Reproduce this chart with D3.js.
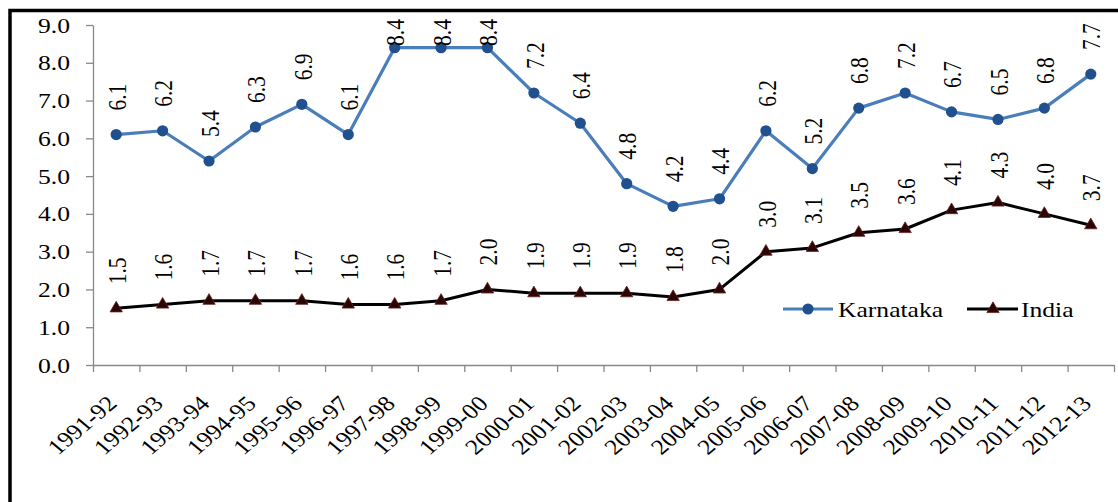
<!DOCTYPE html>
<html>
<head>
<meta charset="utf-8">
<script src="https://cdn.jsdelivr.net/npm/d3@7/dist/d3.min.js"></script>
<style>
  html, body { margin: 0; padding: 0; background: #fff; }
  svg { display: block; }
  text { font-family: "Liberation Serif", "Times New Roman", serif; fill: #000; }
</style>
</head>
<body>
<svg id="chart" width="1118" height="502"></svg>
<script>
// Growth series (per cent), 1991-92 to 2012-13
const categories = ["1991-92","1992-93","1993-94","1994-95","1995-96","1996-97","1997-98",
  "1998-99","1999-00","2000-01","2001-02","2002-03","2003-04","2004-05","2005-06",
  "2006-07","2007-08","2008-09","2009-10","2010-11","2011-12","2012-13"];
const karnataka = [6.1,6.2,5.4,6.3,6.9,6.1,8.4,8.4,8.4,7.2,6.4,4.8,4.2,4.4,6.2,5.2,6.8,7.2,6.7,6.5,6.8,7.7];
const india = [1.5,1.6,1.7,1.7,1.7,1.6,1.6,1.7,2.0,1.9,1.9,1.9,1.8,2.0,3.0,3.1,3.5,3.6,4.1,4.3,4.0,3.7];
const yTicks = [0,1,2,3,4,5,6,7,8,9];
const seriesNames = ["Karnataka", "India"];

const W = 1118, H = 502;
const plot = { left: 93, right: 1114, top: 25, bottom: 365 };
const FONT = 21.5;      // label font size
const SX = 1.19;        // horizontal text stretch
const blueLine = "#4a7ebb", blueMark = "#21508f";
const blackLine = "#000000", triFill = "#2a0505", triStroke = "#6b2020";

const svg = d3.select("#chart");

// outer frame (top and left edges)
svg.append("path")
  .attr("d", `M10,${H} V10.5 H${W}`)
  .attr("fill", "none").attr("stroke", "#000").attr("stroke-width", 3.5);

const x = d3.scaleBand().domain(categories).range([plot.left, plot.right]).padding(0);
const xi = d3.scaleLinear().domain([0, categories.length]).range([plot.left, plot.right]);
const y = d3.scaleLinear().domain([0, 9]).range([plot.bottom, plot.top]);
const cx = c => x(c) + x.bandwidth() / 2;

// y axis
const yAxis = svg.append("g")
  .attr("transform", `translate(${plot.left},0)`)
  .call(d3.axisLeft(y).tickValues(yTicks).tickFormat(d3.format(".1f")).tickSize(7).tickSizeOuter(0));
yAxis.select(".domain").attr("stroke", "#888").attr("stroke-width", 1.3);
yAxis.selectAll(".tick line").attr("stroke", "#888").attr("stroke-width", 1.3);
yAxis.selectAll(".tick text")
  .attr("x", 0).attr("dy", "0.33em")
  .attr("transform", `translate(-23,0) scale(${SX},1)`)
  .attr("font-size", FONT).attr("fill", "#000")
  .attr("text-anchor", "end");

// x axis with ticks at category boundaries
const xAxis = svg.append("g")
  .attr("transform", `translate(0,${plot.bottom})`)
  .call(d3.axisBottom(xi).tickValues(d3.range(categories.length + 1)).tickFormat("").tickSize(7).tickSizeOuter(0));
xAxis.select(".domain").attr("stroke", "#888").attr("stroke-width", 1.3);
xAxis.selectAll(".tick line").attr("stroke", "#888").attr("stroke-width", 1.3);

// category labels, slanted
svg.append("g").selectAll("text")
  .data(categories).join("text")
  .attr("transform", c => `translate(${cx(c) + 2},${plot.bottom + 40}) scale(${SX},1) rotate(-45)`)
  .attr("text-anchor", "end")
  .attr("font-size", FONT)
  .text(c => c);

// series lines
const line = d3.line().x((d, i) => cx(categories[i])).y(d => y(d));

svg.append("path").datum(india)
  .attr("d", line).attr("fill", "none")
  .attr("stroke", blackLine).attr("stroke-width", 3).attr("stroke-linejoin", "round");

svg.append("path").datum(karnataka)
  .attr("d", line).attr("fill", "none")
  .attr("stroke", blueLine).attr("stroke-width", 3.2).attr("stroke-linejoin", "round");

// markers
const tri = d3.symbol(d3.symbolTriangle).size(66);
svg.append("g").selectAll("path")
  .data(india).join("path")
  .attr("d", tri)
  .attr("transform", (d, i) => `translate(${cx(categories[i])},${y(d)})`)
  .attr("fill", triFill).attr("stroke", triStroke).attr("stroke-width", 0.8);

svg.append("g").selectAll("circle")
  .data(karnataka).join("circle")
  .attr("cx", (d, i) => cx(categories[i])).attr("cy", d => y(d))
  .attr("r", 5.6).attr("fill", blueMark);

// value labels, vertical, kept inside the chart frame
function valueLabels(values) {
  const g = svg.append("g");
  g.selectAll("text").data(values).join("text")
    .attr("font-size", FONT)
    .attr("text-anchor", "start")
    .attr("dominant-baseline", "central")
    .text(d => d3.format(".1f")(d))
    .each(function (d, i) {
      const len = this.getComputedTextLength();
      const py = y(d);
      const start = Math.max(py - 24, 19 + len);
      d3.select(this).attr("transform",
        `translate(${cx(categories[i]) + 1},${start}) scale(${SX},1) rotate(-90)`);
    });
}
valueLabels(karnataka);
valueLabels(india);

// legend
const legend = svg.append("g");
const legY = 309;
legend.append("line").attr("x1", 783).attr("x2", 833).attr("y1", legY).attr("y2", legY)
  .attr("stroke", blueLine).attr("stroke-width", 3);
legend.append("circle").attr("cx", 808).attr("cy", legY).attr("r", 5.6).attr("fill", blueMark);
legend.append("text").attr("transform", `translate(838,${legY + 8}) scale(${SX},1)`)
  .attr("font-size", FONT).text(seriesNames[0]);

legend.append("line").attr("x1", 967).attr("x2", 1018).attr("y1", legY).attr("y2", legY)
  .attr("stroke", blackLine).attr("stroke-width", 3);
legend.append("path").attr("d", tri).attr("transform", `translate(993,${legY})`)
  .attr("fill", triFill).attr("stroke", triStroke).attr("stroke-width", 0.8);
legend.append("text").attr("transform", `translate(1021,${legY + 8}) scale(${SX},1)`)
  .attr("font-size", FONT).text(seriesNames[1]);
</script>
</body>
</html>
